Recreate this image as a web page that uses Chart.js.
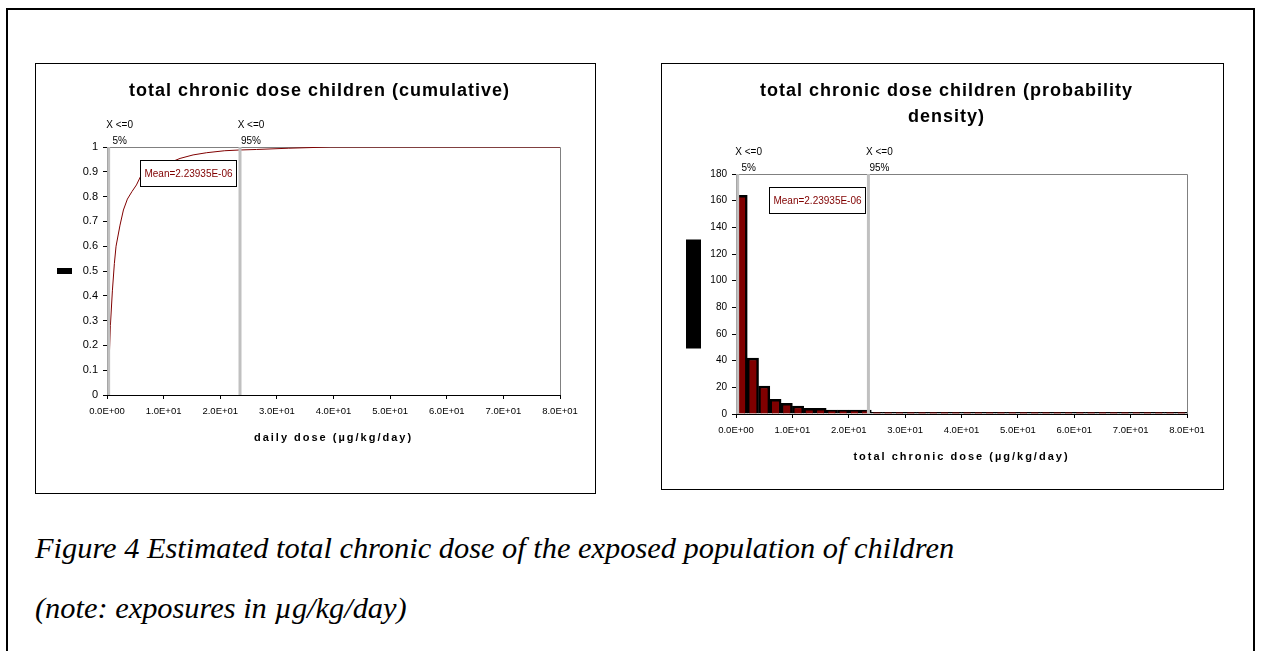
<!DOCTYPE html>
<html>
<head>
<meta charset="utf-8">
<script src="https://cdn.jsdelivr.net/npm/chart.js@4.4.1/dist/chart.umd.min.js"></script>
<style>
  html, body { margin: 0; padding: 0; background: #fff; }
  body { width: 1261px; height: 651px; position: relative; overflow: hidden; }
  #frame { position: absolute; left: 6px; top: 8px; width: 1249px; height: 700px; border: 2px solid #000; box-sizing: border-box; }
  .panel { position: absolute; border: 1px solid #000; box-sizing: border-box; background: #fff; }
  #cdfPanel { left: 35px; top: 63px; width: 561px; height: 431px; }
  #pdfPanel { left: 661px; top: 63px; width: 563px; height: 427px; }
  .panel canvas { display: block; }
  .caption { position: absolute; left: 35px; font-family: 'Liberation Serif', 'Times New Roman', serif; font-style: italic; font-size: 30.4px; line-height: 30px; white-space: nowrap; color: #000; }
</style>
</head>
<body>
<div id="frame"></div>
<div class="panel" id="cdfPanel"><canvas id="cdfChart" width="559" height="429"></canvas></div>
<div class="panel" id="pdfPanel"><canvas id="pdfChart" width="561" height="425"></canvas></div>
<div class="caption" style="top:533px">Figure 4 Estimated total chronic dose of the exposed population of children</div>
<div class="caption" style="top:593px">(note: exposures in µg/kg/day)</div>

<script>
// cumulative curve
const cdfDose = [0.2, 0.35, 0.6, 0.95, 1.3, 1.6, 2.3, 2.9, 3.6, 4.4, 5.2, 5.9, 7.5, 9.3, 11.1, 12.9, 15.2, 17.6, 20.8, 23.5, 26.4, 32, 39.4, 80];
const cdfProb = [0.08, 0.12, 0.28, 0.42, 0.53, 0.6, 0.685, 0.746, 0.79, 0.82, 0.847, 0.88, 0.905, 0.925, 0.937, 0.954, 0.968, 0.977, 0.985, 0.988, 0.99, 0.995, 1.0, 1.0];

// histogram (bins 2 wide)
const binCentres = [1, 3, 5, 7, 9, 11, 13, 15, 17, 19, 21, 23, 25, 27, 29, 31, 33, 35, 37, 39,
                    41, 43, 45, 47, 49, 51, 53, 55, 57, 59, 61, 63, 65, 67, 69, 71, 73, 75, 77, 79];
const binDensity = [164, 42, 21, 11, 8, 6, 4.2, 4.2, 3, 3, 3, 3, 1.2, 1.2, 1.2, 1.2, 1.2, 1.2, 1.2, 1.2,
                    1.2, 1.2, 1.2, 1.2, 1.2, 1.2, 1.2, 1.2, 1.2, 1.2, 1.2, 1.2, 1.2, 1.2, 1.2, 1.2, 1.2, 1.2, 1.2, 1.2];

const xTicks = [0, 10, 20, 30, 40, 50, 60, 70, 80];
const cdfTicks = [0, 0.1, 0.2, 0.3, 0.4, 0.5, 0.6, 0.7, 0.8, 0.9, 1];
const pdfTicks = [0, 20, 40, 60, 80, 100, 120, 140, 160, 180];

const pctDose = [0.2, 23.4];
const pctHead = ['X <=0', 'X <=0'];
const pctLabels = ['5%', '95%'];
const meanText = 'Mean=2.23935E-06';

Chart.defaults.font.family = "'Liberation Sans', Arial, sans-serif";
Chart.defaults.color = '#000';

function sci(v) {
    if (v === 0) return '0.0E+00';
    const exp = Math.floor(Math.log10(v));
    const mant = v / Math.pow(10, exp);
    return mant.toFixed(1) + 'E+' + String(exp).padStart(2, '0');
}

const panelText = {
    id: 'panelText',
    beforeDatasetsDraw(chart) {
        const { ctx, chartArea: a } = chart;
        ctx.save();
        ctx.strokeStyle = '#808080';
        ctx.lineWidth = 1;
        ctx.beginPath();
        ctx.moveTo(a.left, a.top + 0.5);
        ctx.lineTo(a.right + 0.5, a.top + 0.5);
        ctx.lineTo(a.right + 0.5, a.bottom);
        ctx.stroke();
        ctx.restore();
    },
    afterDatasetsDraw(chart) {
        const { ctx, chartArea: a } = chart;
        const x = chart.scales.x;
        ctx.save();
        ctx.strokeStyle = '#c0c0c0';
        ctx.lineWidth = 3;
        ctx.font = "10px 'Liberation Sans', Arial, sans-serif";
        ctx.fillStyle = '#000';
        ctx.textAlign = 'center';
        ctx.textBaseline = 'middle';
        pctDose.forEach((d, i) => {
            const px = x.getPixelForValue(d) + 0.5;
            ctx.beginPath();
            ctx.moveTo(px, a.top);
            ctx.lineTo(px, a.bottom);
            ctx.stroke();
            ctx.fillText(pctHead[i], px + 11, a.top - 22);
            ctx.fillText(pctLabels[i], px + 11, a.top - 6);
        });
        ctx.restore();
    },
    afterDraw(chart, args, opts) {
        const { ctx, chartArea: a, width } = chart;
        ctx.save();

        // mean box
        const bx = a.left + 33, by = a.top + 13;
        ctx.fillStyle = '#fff';
        ctx.fillRect(bx, by, 97, 27);
        ctx.strokeStyle = '#000';
        ctx.lineWidth = 1;
        ctx.strokeRect(bx + 0.5, by + 0.5, 96, 26);
        ctx.fillStyle = '#800000';
        ctx.font = "10px 'Liberation Sans', Arial, sans-serif";
        ctx.textAlign = 'center';
        ctx.textBaseline = 'middle';
        ctx.fillText(meanText, bx + 48.5, by + 14);

        // chart title
        ctx.fillStyle = '#000';
        ctx.font = "bold 18px 'Liberation Sans', Arial, sans-serif";
        ctx.letterSpacing = '1px';
        opts.title.forEach((line, i) => {
            ctx.fillText(line, width / 2 + 4, 27 + i * 26);
        });

        // axis title
        ctx.font = "bold 11px 'Liberation Sans', Arial, sans-serif";
        ctx.letterSpacing = '2px';
        ctx.fillText(opts.xTitle, (a.left + a.right) / 2, a.bottom + 43);
        ctx.letterSpacing = '0px';

        // y title block
        const mid = (a.top + a.bottom) / 2;
        ctx.fillRect(a.left - 50, mid - opts.yBlock / 2, 15, opts.yBlock);
        ctx.restore();
    }
};

function axes(yTicks, yMax, yFont, yWidth, xHeight, yFmt) {
    return {
        x: {
            type: 'linear', min: 0, max: 80, offset: false,
            afterBuildTicks: s => { s.ticks = xTicks.map(v => ({ value: v })); },
            afterFit: s => { s.height = xHeight; },
            ticks: { callback: sci, font: { size: 9.5 }, color: '#000', padding: 7, maxRotation: 0, autoSkip: false },
            grid: { drawOnChartArea: false, tickLength: 4, color: '#000', offset: false },
            border: { color: '#000', width: 1 }
        },
        y: {
            min: 0, max: yMax,
            afterBuildTicks: s => { s.ticks = yTicks.map(v => ({ value: v })); },
            afterFit: s => { s.width = yWidth; },
            ticks: { callback: yFmt, font: { size: yFont }, color: '#000', padding: 5 },
            grid: { drawOnChartArea: false, tickLength: 4, color: '#000' },
            border: { color: '#000', width: 1 }
        }
    };
}

new Chart(document.getElementById('cdfChart'), {
    type: 'line',
    data: {
        datasets: [{
            data: cdfDose.map((d, i) => ({ x: d, y: cdfProb[i] })),
            borderColor: '#800000',
            borderWidth: 1,
            pointRadius: 0,
            tension: 0,
            fill: false
        }]
    },
    options: {
        responsive: false,
        animation: false,
        layout: { padding: { left: 0, top: 83, right: 35, bottom: 0 } },
        plugins: {
            legend: { display: false },
            tooltip: { enabled: false },
            panelText: {
                title: ['total chronic dose children (cumulative)'],
                xTitle: 'daily dose (µg/kg/day)',
                yBlock: 6
            }
        },
        scales: axes(cdfTicks, 1, 11, 71, 98, v => String(+v.toFixed(1)))
    },
    plugins: [panelText]
});

new Chart(document.getElementById('pdfChart'), {
    type: 'bar',
    data: {
        datasets: [{
            data: binCentres.map((c, i) => ({ x: c, y: binDensity[i] })),
            backgroundColor: '#800000',
            borderColor: '#000',
            borderWidth: 2.5,
            barPercentage: 1,
            categoryPercentage: 1
        }]
    },
    options: {
        responsive: false,
        animation: false,
        layout: { padding: { left: 0, top: 110, right: 36, bottom: 0 } },
        plugins: {
            legend: { display: false },
            tooltip: { enabled: false },
            panelText: {
                title: ['total chronic dose children (probability', 'density)'],
                xTitle: 'total chronic dose (µg/kg/day)',
                yBlock: 109
            }
        },
        scales: axes(pdfTicks, 180, 10, 74, 75, v => String(v))
    },
    plugins: [panelText]
});
</script>
</body>
</html>
